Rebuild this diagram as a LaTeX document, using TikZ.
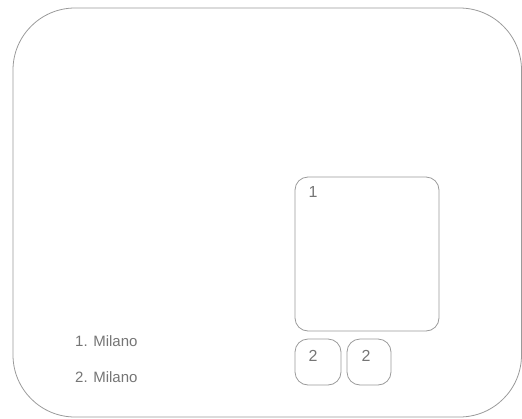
\documentclass[tikz,border=0pt]{standalone}
\usepackage{fontspec}
\setmainfont{Liberation Sans}
\definecolor{linegray}{HTML}{9A9A9A}
\definecolor{textgray}{HTML}{757575}
\tikzset{
  frame/.style={draw=linegray, line width=0.8pt, rounded corners=62pt},
  cellbox/.style={draw=linegray, line width=0.8pt, rounded corners=13pt},
  smallbox/.style={draw=linegray, line width=0.8pt, rounded corners=13pt},
  lbl/.style={text=textgray, font=\fontsize{15}{18}\selectfont, inner sep=0pt},
  num/.style={text=textgray, font=\fontsize{16}{18}\selectfont, inner sep=0pt}
}
\begin{document}
\begin{tikzpicture}[x=1pt,y=-1pt]
\useasboundingbox (0,0) rectangle (522,418);
\draw[frame] (13,8) rectangle (521.5,417);
\draw[cellbox] (295,177) rectangle (439,331);
\node[num] (n1) at (313,192) {1};
\draw[smallbox] (295,339) rectangle (341,385);
\draw[smallbox] (347,339) rectangle (391,385);
\node[num] (n2a) at (313,356) {2};
\node[num] (n2b) at (366,356) {2};
\node[lbl, anchor=west] (m1) at (75,341) {1. Milano};
\node[lbl, anchor=west] (m2) at (75,377) {2. Milano};
\end{tikzpicture}
\end{document}
